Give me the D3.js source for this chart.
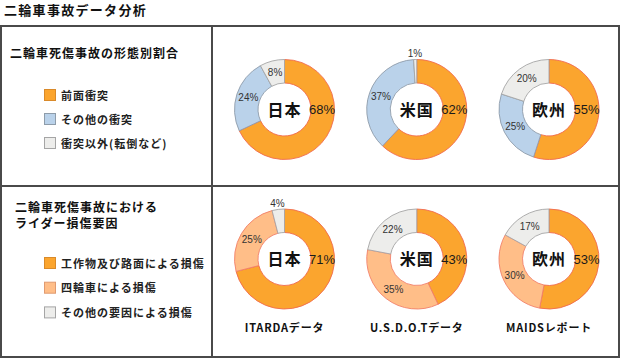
<!DOCTYPE html>
<html><head><meta charset="utf-8">
<script src="https://cdn.jsdelivr.net/npm/d3@7"></script>
<style>
html,body{margin:0;padding:0;background:#fff;}
svg{display:block;}
</style></head>
<body>
<script>
const title = "二輪車事故データ分析";
const section1Title = ["二輪車死傷事故の形態別割合"];
const section2Title = ["二輪車死傷事故における", "ライダー損傷要因"];
const legend1 = ["前面衝突", "その他の衝突", "衝突以外(転倒など)"];
const legend2 = ["工作物及び路面による損傷", "四輪車による損傷", "その他の要因による損傷"];
const regions = ["日本", "米国", "欧州"];
const sources = ["ITARDAデータ", "U.S.D.O.Tデータ", "MAIDSレポート"];
const row1Values = [[68, 24, 8], [62, 37, 1], [55, 25, 20]];
const row2Values = [[71, 25, 4], [43, 35, 22], [53, 30, 17]];

const fill1 = ["#FBA52E", "#BAD2EA", "#EDEDEB"];
const stroke1 = ["#F06A4E", "#8E9CAA", "#A5A5A5"];
const fill2 = ["#FBA52E", "#FFBE88", "#EDEDEB"];
const stroke2 = ["#F06A4E", "#F2806A", "#A5A5A5"];

const W = 620, H = 359;
const svg = d3.select("body").append("svg").attr("width", W).attr("height", H);
const CJK = "'Noto Sans CJK JP', 'Noto Sans', sans-serif";
const NUM = "'Liberation Sans Narrow', 'Liberation Sans', Arial, sans-serif";

// Title
svg.append("text").attr("x", 4).attr("y", 15).text(title)
  .attr("font-family", CJK).attr("font-weight", "bold").attr("font-size", 13)
  .attr("letter-spacing", 1.3).attr("fill", "#111");

// Table borders
const lineCol = "#4a4a4a";
svg.append("rect").attr("x", 1).attr("y", 26).attr("width", 618).attr("height", 331)
  .attr("fill", "none").attr("stroke", lineCol).attr("stroke-width", 2);
svg.append("line").attr("x1", 212).attr("x2", 212).attr("y1", 26).attr("y2", 357)
  .attr("stroke", lineCol).attr("stroke-width", 2);
svg.append("line").attr("x1", 1).attr("x2", 619).attr("y1", 186).attr("y2", 186)
  .attr("stroke", lineCol).attr("stroke-width", 2);

// Section titles
function sectionTitle(lines, x, y0) {
  lines.forEach((t, i) => {
    svg.append("text").attr("x", x).attr("y", y0 + i * 16).text(t)
      .attr("font-family", CJK).attr("font-weight", "bold").attr("font-size", 12)
      .attr("letter-spacing", 1).attr("fill", "#111");
  });
}
sectionTitle(section1Title, 10, 58);
sectionTitle(section2Title, 15, 212);

// Legends
function legend(items, fills, strokes, y0, step) {
  const g = svg.append("g");
  items.forEach((t, i) => {
    const y = y0 + i * step;
    g.append("rect").attr("x", 44.5).attr("y", y + 0.5).attr("width", 11).attr("height", 11)
      .attr("fill", fills[i]).attr("stroke", i === 0 ? "#D98A2A" : (strokes[i] === "#8E9CAA" ? "#8E9CAA" : (i === 1 ? "#E09A70" : "#A5A5A5")))
      .attr("stroke-width", 1);
    g.append("text").attr("x", 61).attr("y", y + 10.5).text(t)
      .attr("font-family", CJK).attr("font-weight", "bold").attr("font-size", 11)
      .attr("letter-spacing", 1).attr("fill", "#222");
  });
}
legend(legend1, fill1, stroke1, 89, 24);
legend(legend2, fill2, stroke2, 257, 24.7);

// Donuts
const centersX = d3.scalePoint().domain(regions).range([284.5, 549]);
const outerR = 50, innerR = 26.5;
const pie = d3.pie().sort(null).value(d => d);
const arc = d3.arc().innerRadius(innerR).outerRadius(outerR);
const labelArc = d3.arc().innerRadius(38).outerRadius(38);
const outArc = d3.arc().innerRadius(56).outerRadius(56);
const mainLabelArc = d3.arc().innerRadius(37.5).outerRadius(37.5);

function donutRow(values, fills, strokes, cy) {
  values.forEach((vals, j) => {
    const g = svg.append("g").attr("transform", `translate(${centersX(regions[j])},${cy})`);
    const arcs = pie(vals);
    g.selectAll("path").data(arcs).join("path")
      .attr("d", arc)
      .attr("fill", (d, i) => fills[i])
      .attr("stroke", (d, i) => strokes[i])
      .attr("stroke-width", 0.9);
    arcs.forEach((d, i) => {
      let p, size, font, col;
      if (i === 0) {
        p = mainLabelArc.centroid({startAngle: 0, endAngle: Math.PI});
        size = 13; col = "#1a1a1a";
      } else if (d.data < 5) {
        p = outArc.centroid(d); size = 10; col = "#333";
      } else {
        p = labelArc.centroid(d); size = 10; col = "#333";
      }
      g.append("text").attr("x", p[0]).attr("y", p[1]).attr("dy", "0.36em")
        .attr("text-anchor", "middle").text(d.data + "%")
        .attr("font-family", NUM).attr("font-size", size).attr("fill", col);
    });
    g.append("text").attr("x", 0).attr("y", 6).attr("text-anchor", "middle").text(regions[j])
      .attr("font-family", CJK).attr("font-weight", "bold").attr("font-size", 16)
      .attr("letter-spacing", 1).attr("fill", "#111");
  });
}
donutRow(row1Values, fill1, stroke1, 109.5);
donutRow(row2Values, fill2, stroke2, 259);

// Source labels
sources.forEach((s, j) => {
  svg.append("text").attr("x", centersX(regions[j])).attr("y", 332).attr("text-anchor", "middle")
    .text(s).attr("font-family", CJK).attr("font-weight", "bold").attr("font-size", 11)
    .attr("letter-spacing", 0.8).attr("fill", "#111");
});
</script>
</body></html>
